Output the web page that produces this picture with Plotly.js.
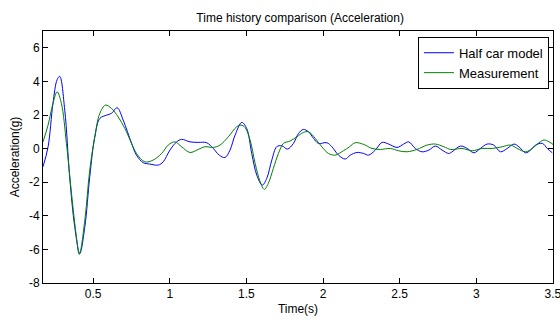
<!DOCTYPE html>
<html>
<head>
<meta charset="utf-8">
<script src="https://cdn.plot.ly/plotly-3.0.1.min.js"></script>
<style>html,body{margin:0;padding:0;background:#fff;}#chart{width:560px;height:320px;}</style>
</head>
<body>
<div id="chart"></div>
<script>
const modelTime = [0.173,0.206,0.238,0.265,0.282,0.315,0.347,0.380,0.413,0.446,0.478,0.511,0.544,0.588,0.620,0.657,0.696,0.751,0.783,0.827,0.870,0.925,0.957,1.001,1.045,1.077,1.132,1.186,1.241,1.284,1.323,1.360,1.393,1.426,1.470,1.502,1.535,1.568,1.604,1.633,1.666,1.698,1.731,1.768,1.807,1.840,1.872,1.905,1.938,1.970,2.025,2.058,2.101,2.145,2.178,2.221,2.265,2.297,2.341,2.385,2.428,2.483,2.526,2.559,2.602,2.646,2.690,2.733,2.777,2.820,2.842,2.897,2.941,2.984,3.027,3.071,3.114,3.158,3.202,3.246,3.278,3.322,3.354,3.387,3.431,3.463,3.496];
const modelAcc = [-1.08,0.10,2.69,4.10,4.30,2.29,-1.68,-4.65,-6.24,-4.65,-1.68,0.70,1.80,1.99,2.10,2.43,1.70,0.31,-0.39,-0.84,-0.92,-0.98,-0.79,-0.09,0.40,0.55,0.40,0.37,0.35,0.01,-0.39,-0.53,-0.09,0.80,1.56,1.20,-0.29,-1.58,-2.17,-1.77,-0.68,0.11,0.17,-0.03,0.31,0.90,1.14,1.00,0.61,0.31,0.35,0.11,-0.39,-0.62,-0.39,-0.23,-0.29,-0.39,-0.09,0.37,0.27,0.07,0.27,0.40,0.01,-0.19,-0.09,0.15,-0.09,-0.29,-0.19,0.15,0.01,-0.25,0.01,0.27,0.21,-0.19,0.01,0.27,0.11,-0.25,-0.09,0.21,0.31,0.01,-0.25];
const measTime = [0.173,0.206,0.238,0.265,0.293,0.326,0.359,0.391,0.410,0.446,0.478,0.511,0.544,0.581,0.620,0.663,0.707,0.751,0.783,0.838,0.892,0.947,0.990,1.034,1.077,1.132,1.186,1.230,1.284,1.328,1.382,1.437,1.465,1.491,1.524,1.557,1.590,1.617,1.643,1.676,1.709,1.742,1.785,1.829,1.872,1.905,1.949,1.992,2.036,2.079,2.133,2.173,2.210,2.265,2.319,2.374,2.439,2.493,2.548,2.613,2.679,2.733,2.788,2.831,2.853,2.907,2.973,3.038,3.104,3.169,3.223,3.267,3.322,3.365,3.409,3.442,3.475,3.507];
const measAcc = [0.40,1.40,2.69,3.38,2.69,0.31,-2.67,-5.25,-6.30,-4.26,-1.28,0.70,2.10,2.59,2.39,1.89,1.20,0.31,-0.29,-0.79,-0.68,-0.29,0.21,0.40,0.11,-0.23,-0.05,0.11,0.07,0.21,0.70,1.30,1.40,1.26,0.51,-0.88,-1.98,-2.43,-2.07,-1.18,-0.29,0.31,0.45,0.70,0.96,1.00,0.61,0.11,-0.29,-0.39,-0.13,0.11,0.35,0.25,0.01,-0.05,0.01,-0.13,-0.19,-0.05,0.21,0.27,0.11,-0.05,-0.05,0.01,-0.13,0.01,0.01,0.11,0.21,0.01,-0.19,0.01,0.35,0.51,0.40,0.21];
const seriesNames = ['Half car model','Measurement'];
const xTicks = [0.5,1,1.5,2,2.5,3,3.5];
const xTickText = ['0.5','1','1.5','2','2.5','3','3.5'];
const yTicks = [-8,-6,-4,-2,0,2,4,6];
const yTickText = ['-8','-6','-4','-2','0','2','4','6'];

const font = {family:'"Liberation Sans", Arial, sans-serif', size:12, color:'#000'};
const legendFont = {family:'"Liberation Sans", Arial, sans-serif', size:13, color:'#000'};
const traces = [
  {x:modelTime, y:modelAcc, name:seriesNames[0], type:'scatter', mode:'lines',
   line:{color:'#0000ff', width:1, shape:'spline', smoothing:1}},
  {x:measTime, y:measAcc, name:seriesNames[1], type:'scatter', mode:'lines',
   line:{color:'#008000', width:1, shape:'spline', smoothing:1}}
];
const axisCommon = {showline:true, linecolor:'#000', linewidth:1, mirror:'ticks', ticks:'inside',
  ticklen:5, tickcolor:'#000', tickwidth:1, showgrid:false, zeroline:false, tickfont:font,
  ticklabeloverflow:'allow'};
const layout = {
  width:560, height:320,
  margin:{l:43, r:7, t:31, b:37},
  paper_bgcolor:'#fff', plot_bgcolor:'#fff',
  font:font,
  title:{text:'Time history comparison (Acceleration)', font:font, x:0.536, xanchor:'center', y:0.945, yanchor:'middle'},
  xaxis:Object.assign({}, axisCommon, {range:[0.173,3.5005], tickvals:xTicks, ticktext:xTickText,
    title:{text:'Time(s)', font:font, standoff:4}}),
  yaxis:Object.assign({}, axisCommon, {range:[-8,7], tickvals:yTicks, ticktext:yTickText,
    title:{text:'Acceleration(g)', font:font, standoff:6}}),
  showlegend:true,
  legend:{x:0.992, y:0.977, xanchor:'right', yanchor:'top', bgcolor:'#fff', bordercolor:'#000', borderwidth:1,
    font:legendFont, tracegroupgap:0, itemwidth:30}
};
Plotly.newPlot('chart', traces, layout, {displayModeBar:false, staticPlot:true});
</script>
</body>
</html>
